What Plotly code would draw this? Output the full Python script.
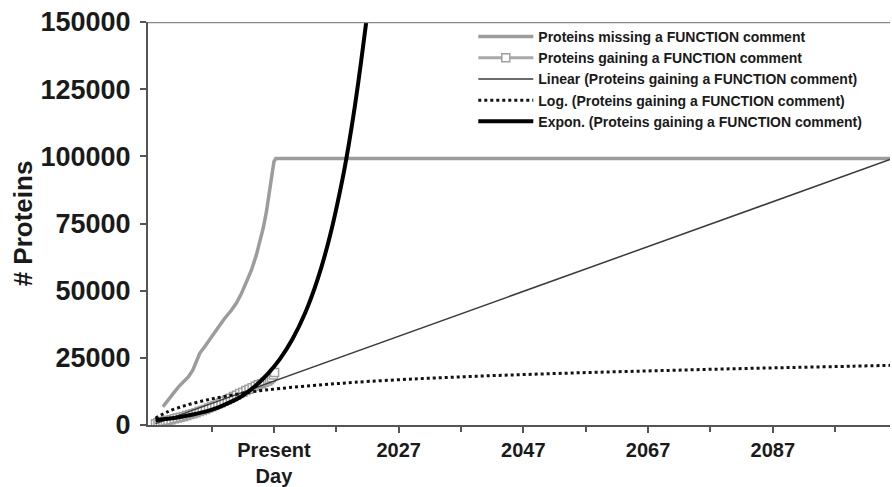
import plotly.graph_objects as go

# ---- data ----
missing_years = [1989.2, 1990.0, 1990.8, 1991.7, 1992.5, 1993.3, 1994.0, 1994.6, 1995.1, 1996.0,
                 1997.0, 1998.0, 1998.9, 2000.2, 2001.0, 2001.8, 2002.6, 2003.4, 2004.2, 2004.8,
                 2005.3, 2005.8, 2006.2, 2006.5, 2006.8, 2007.0, 2007.3, 2105.8]
missing_vals = [6800, 9000, 11600, 14200, 16000, 18000, 20500, 23500, 26700, 29500,
                32900, 36500, 39100, 42800, 45500, 49000, 53000, 57700, 63500, 68900,
                73500, 79500, 85000, 90000, 95000, 98000, 99200, 99200]

gain_years = [1988.0, 1988.4, 1988.8, 1989.2, 1989.6, 1990.0, 1990.5, 1991.0, 1991.5, 1992.0,
              1992.5, 1993.0, 1993.5, 1994.0, 1994.5, 1995.0, 1995.5, 1996.0, 1996.5, 1997.0,
              1997.5, 1998.0, 1998.5, 1999.0, 1999.5, 2000.0, 2000.5, 2001.0, 2001.5, 2002.0,
              2002.5, 2003.0, 2003.5, 2004.0, 2004.5, 2005.0, 2005.5, 2006.0, 2006.3, 2006.6,
              2006.9, 2007.1]
gain_vals = [500, 800, 1100, 1300, 1500, 1800, 2000, 2300, 2600, 2900,
             3200, 3500, 3900, 4200, 4600, 5000, 5400, 5800, 6300, 6800,
             7300, 7800, 8300, 8800, 9400, 10000, 10600, 11100, 11700, 12200,
             12800, 13300, 13900, 14400, 15000, 15400, 15900, 16400, 16900, 17600,
             18600, 19500]

linear_years = [1988.0, 2105.8]
linear_vals = [500, 98800]

log_years = [1988.0, 1990.0, 1993.0, 1996.0, 1999.0, 2003.0, 2008.0, 2015.0, 2020.0, 2030.0,
             2040.0, 2050.0, 2060.0, 2070.0, 2080.0, 2090.0, 2100.0, 2105.8]
log_vals = [2500, 5000, 7400, 9200, 10600, 12200, 13600, 15000, 15900, 17200,
            18200, 19000, 19700, 20300, 20900, 21400, 21900, 22200]

expon_years = [1988.0, 1990.0, 1992.0, 1994.0, 1996.0, 1998.0, 2000.0, 2002.0, 2004.0, 2006.0,
               2008.0, 2010.0, 2012.0, 2014.0, 2016.0, 2018.0, 2019.0, 2020.0, 2021.0, 2021.8]
expon_vals = [1800, 2300, 3000, 3900, 5000, 6500, 8500, 11000, 14500, 19000,
              24700, 32100, 41700, 54200, 70500, 91600, 104400, 119000, 135700, 150000]

y_ticks = [0, 25000, 50000, 75000, 100000, 125000, 150000]
y_ticktext = ["0", "25000", "50000", "75000", "100000", "125000", "150000"]
x_tickvals = [2007, 2027, 2047, 2067, 2087]
x_ticktext = ["Present<br>Day", "2027", "2047", "2067", "2087"]
x_minor = [1997, 2017, 2037, 2057, 2077, 2097]

FONT = "Arial, 'Liberation Sans', sans-serif"

fig = go.Figure()
fig.add_trace(go.Scatter(
    x=missing_years, y=missing_vals, mode="lines",
    name="<b>Proteins missing a FUNCTION comment</b>",
    line=dict(color="#9c9c9c", width=3.5)))
fig.add_trace(go.Scatter(
    x=gain_years, y=gain_vals, mode="lines+markers",
    name="<b>Proteins gaining a FUNCTION comment</b>",
    line=dict(color="#a8a8a8", width=3),
    marker=dict(symbol="square", size=8, color="white",
                line=dict(color="#a0a0a0", width=1.5))))
fig.add_trace(go.Scatter(
    x=linear_years, y=linear_vals, mode="lines",
    name="<b>Linear (Proteins gaining a FUNCTION comment)</b>",
    line=dict(color="#3a3a3a", width=1.5)))
fig.add_trace(go.Scatter(
    x=log_years, y=log_vals, mode="lines", line_shape="spline",
    name="<b>Log. (Proteins gaining a FUNCTION comment)</b>",
    line=dict(color="#111111", width=3, dash="3px,3px")))
fig.add_trace(go.Scatter(
    x=expon_years, y=expon_vals, mode="lines", line_shape="spline",
    name="<b>Expon. (Proteins gaining a FUNCTION comment)</b>",
    line=dict(color="#000000", width=4)))

# top border of the plot area
fig.add_shape(type="line", xref="paper", yref="y", x0=0, x1=1, y0=150000, y1=150000,
              line=dict(color="#8a8a8a", width=2.5))

fig.update_layout(
    width=892, height=487,
    margin=dict(l=148, r=2, t=22, b=62, autoexpand=False),
    paper_bgcolor="white", plot_bgcolor="white",
    font=dict(family=FONT, color="#1a1a1a"),
    showlegend=True,
    legend=dict(x=0.4384, y=1.0026, xanchor="left", yanchor="top",
                bgcolor="rgba(255,255,255,0)", borderwidth=0,
                font=dict(family=FONT, size=14, color="#1a1a1a"),
                itemwidth=55, tracegroupgap=0),
    xaxis=dict(range=[1986.8, 2105.8], showgrid=False, zeroline=False, automargin=False,
               showline=True, linecolor="#555555", linewidth=2,
               tickmode="array", tickvals=x_tickvals, ticktext=x_ticktext,
               ticks="outside", ticklen=6, tickwidth=2, tickcolor="#555555",
               tickfont=dict(family=FONT, size=20, color="#1a1a1a", weight="bold"),
               minor=dict(tickvals=x_minor, ticks="outside", ticklen=5,
                          tickwidth=1.5, tickcolor="#555555", showgrid=False)),
    yaxis=dict(range=[0, 150000], showgrid=False, zeroline=False, automargin=False,
               showline=True, linecolor="#555555", linewidth=2,
               tickmode="array", tickvals=y_ticks, ticktext=y_ticktext,
               ticks="outside", ticklen=6, tickwidth=2, tickcolor="#555555",
               ticklabelstandoff=4,
               tickfont=dict(family=FONT, size=27, color="#1a1a1a", weight="bold"),
               title=dict(text="<b># Proteins</b>", standoff=0,
                          font=dict(family=FONT, size=26, color="#1a1a1a"))),
)

fig.write_html("out.html", config={"displayModeBar": False},
               post_script="document.body.style.margin='0';document.body.style.overflow='hidden';")
